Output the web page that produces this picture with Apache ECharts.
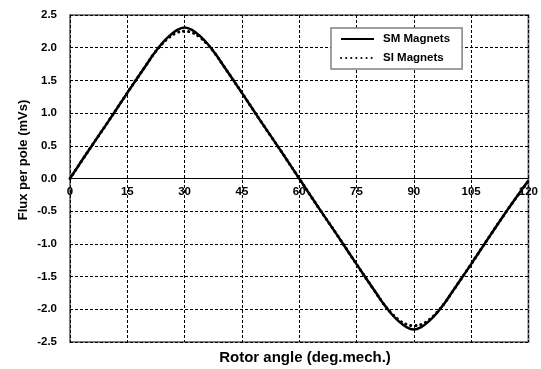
<!DOCTYPE html>
<html>
<head>
<meta charset="utf-8">
<script src="https://cdn.jsdelivr.net/npm/echarts@6/dist/echarts.min.js"></script>
<style>html,body{margin:0;padding:0;background:#fff;}#c{width:541px;height:369px;}</style>
</head>
<body>
<div id="c"></div>
<script>
var degrees = [0,5,10,15,20,22,24,26,28,30,32,34,36,38,40,45,50,55,60,65,70,75,80,82,84,86,88,90,92,94,96,98,100,105,110,115,120];
var smValues = [0,0.44,0.87,1.31,1.74,1.91,2.06,2.18,2.27,2.31,2.27,2.18,2.06,1.91,1.74,1.31,0.87,0.44,0,-0.44,-0.87,-1.31,-1.74,-1.91,-2.06,-2.18,-2.27,-2.31,-2.27,-2.18,-2.06,-1.91,-1.74,-1.31,-0.87,-0.44,-0.03];
var siValues = [0,0.44,0.87,1.31,1.74,1.91,2.05,2.16,2.23,2.25,2.23,2.16,2.05,1.91,1.74,1.31,0.87,0.44,0,-0.44,-0.87,-1.31,-1.74,-1.91,-2.05,-2.16,-2.23,-2.25,-2.23,-2.16,-2.05,-1.91,-1.74,-1.31,-0.87,-0.44,-0.04];
var seriesNames = ['SM Magnets','SI Magnets'];
var xTitle = 'Rotor angle (deg.mech.)';
var yTitle = 'Flux per pole (mVs)';

function pairs(vals){ return degrees.map(function(d,i){ return [d, vals[i]]; }); }
var font = '"Liberation Sans", Arial, sans-serif';
var chart = echarts.init(document.getElementById('c'), null, {renderer:'canvas'});
chart.setOption({
  animation:false,
  backgroundColor:'#fff',
  graphic:[
    {type:'text', x:305, y:358, style:{text:xTitle, textAlign:'center', textVerticalAlign:'middle',
      font:'bold 15px "Liberation Sans", Arial, sans-serif', fill:'#000'}},
    {type:'text', x:23, y:160, rotation:Math.PI/2, style:{text:yTitle, textAlign:'center', textVerticalAlign:'middle',
      font:'bold 13px "Liberation Sans", Arial, sans-serif', fill:'#000'}}
  ],
  grid:{left:70, right:11, top:15, bottom:27, show:true, borderColor:'#808080', borderWidth:2, backgroundColor:'transparent'},
  legend:{
    orient:'vertical', left:331, top:28, padding:[5,12,5,9], itemGap:7,
    backgroundColor:'#fff', borderColor:'#808080', borderWidth:1.5,
    itemWidth:33, itemHeight:12,
    itemStyle:{opacity:0},
    textStyle:{fontFamily:font, fontSize:11.5, fontWeight:'bold', color:'#000', padding:[0,0,0,4]},
    data:seriesNames
  },
  xAxis:{
    type:'value', min:0, max:120, interval:15,
    offset:-163.5,
    axisLine:{show:true, onZero:false, lineStyle:{color:'#000', width:1}},
    axisTick:{show:false},
    axisLabel:{fontFamily:font, fontSize:11.5, fontWeight:'bold', color:'#000', margin:7},
    splitLine:{show:true, lineStyle:{color:'#000', type:[3,2], width:1}}
  },
  yAxis:{
    type:'value', min:-2.5, max:2.5, interval:0.5,
    axisLine:{show:false},
    axisTick:{show:false},
    axisLabel:{fontFamily:font, fontSize:11.5, fontWeight:'bold', color:'#000', margin:13,
      formatter:function(v){ return v.toFixed(1); }},
    splitLine:{show:true, lineStyle:{color:'#000', type:[3,2], width:1}}
  },
  series:[
    {name:seriesNames[0], type:'line', data:pairs(smValues), smooth:0.4, symbol:'none',
      lineStyle:{color:'#000', width:2.5, type:'solid'}, itemStyle:{color:'#000'}},
    {name:seriesNames[1], type:'line', data:pairs(siValues), smooth:0.4, symbol:'none',
      lineStyle:{color:'#000', width:3, type:[0.1,5], cap:'round'}, itemStyle:{color:'#000'}}
  ]
});
</script>
</body>
</html>
